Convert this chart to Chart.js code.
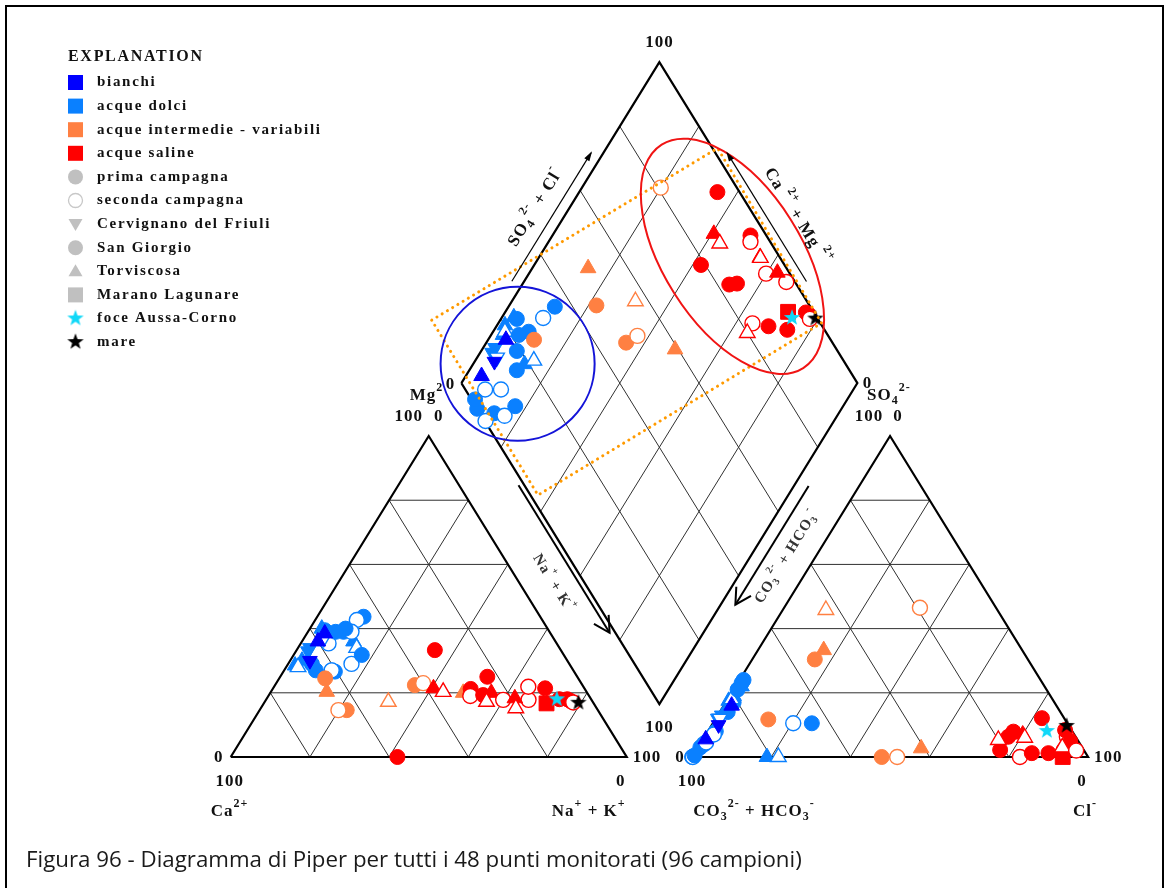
<!DOCTYPE html>
<html lang="it">
<head>
<meta charset="utf-8">
<title>Diagramma di Piper</title>
<script src="https://cdn.jsdelivr.net/npm/chart.js@4.4.1/dist/chart.umd.min.js"></script>
<style>
  html, body { margin: 0; padding: 0; background: #fff; }
  #page { position: relative; width: 1172px; height: 888px; overflow: hidden; }
  #box { position: absolute; left: 0; top: 0; width: 1172px; height: 888px; }
  #frame { position: absolute; left: 5px; top: 5px; width: 1159px; height: 900px; border: 2px solid #000; box-sizing: border-box; pointer-events: none; }
  #caption { position: absolute; left: 26px; top: 843px; font: 22.3px "Open Sans", sans-serif; color: #1a1a1a; white-space: nowrap; }
</style>
</head>
<body>
<div id="page">
  <div id="box"><canvas id="piper"></canvas></div>
  <div id="frame"></div>
  <div id="caption">Figura 96 - Diagramma di Piper per tutti i 48 punti monitorati (96 campioni)</div>
</div>
<script>
// ---- legend text ----
const groupNames = ['bianchi', 'acque dolci', 'acque intermedie - variabili', 'acque saline'];
const campaignNames = ['prima campagna', 'seconda campagna'];
const siteNames = ['Cervignano del Friuli', 'San Giorgio', 'Torviscosa', 'Marano Lagunare', 'foce Aussa-Corno', 'mare'];

// ---- samples (% meq) ----
// group: 0 bianchi, 1 dolci, 2 intermedie, 3 saline; campaign 1/2; site = index in siteNames
const sampleGroup    = [1,1,1,1,1,1,1,1,1,1,1,1,1,1,1,1,1,1,1,1,1,1,1,1, 0,0,0, 2,2,2,2,2,2,2,2, 3,3,3,3,3,3,3,3,3,3,3,3,3,3,3,3,3,3,3,3,3, 3,3];
const sampleCampaign = [1,2,1,2,1,1,1,1,1,1,2,1,1,2,2,1,2,1,1,1,2,2,1,1, 1,1,1, 1,1,1,2,2,1,2,1, 1,1,2,1,2,1,1,1,1,2,2,1,1,1,1,2,1,1,2,2,2, 1,1];
const sampleSite     = [1,1,2,2,1,1,1,2,2,0,1,1,1,1,1,1,1,1,0,2,2,0,1,1, 2,0,2, 1,2,1,1,2,1,1,2, 1,2,2,1,1,1,2,1,1,1,1,2,3,1,1,1,1,1,2,2,1, 4,5];
// cations
const mgPct  = [43.7,42.7,36,34,39,27,39.5,40,30,33,35.4,27,26.6,27,29,31.8,39,29,34,28.5,28,37,40,39,
                38.5,30,36,
                24.5,20.3,14.6,14.6,17.2,22.4,23,20,
                33.3,21.4,20.3,21.2,19,0,20,25,19.3,17.8,17.8,18.3,16.7,17.5,18,21.9,21.4,18,15.2,17.2,17,
                18.3,17.2];
const naKPct = [11.7,10.5,13,14.8,9,12,4,3,3,3,7,8,13,12,16,17.2,11,6,3,2,3,5,9,7,
                4.5,5,4,
                11.6,14.1,22,19.9,31.2,35.3,37.1,48.7,
                34.9,40.5,43.5,50,51,42.1,55.8,52.3,54.1,59.9,66.3,62.6,71.4,77,76,64.2,68.7,74,64.4,56,78,
                73.2,79.2];
// anions
const so4Pct = [10.5,10.5,0,0,17,14,23,22,17.5,12,4,0,3,0,4.5,8,7,0.5,13,19,18,12,24,21,
                16,10,5.5,
                11.7,33.3,30.4,46.5,45.8,0,0,2.7,
                12.1,7,6,3,2.2,2.2,3,6.3,7.9,1,6.3,4,0,8.4,5,0,1.2,1.2,5.3,3,2,
                8.4,10];
const clPct  = [25,20.3,18.9,21.8,2,2,1,1.5,0.5,0.5,1,0,0.6,0.2,1.3,2,2,0.4,1,1,1,1,1,1,
                2,1.7,0.7,
                13.4,16.6,15.8,34.3,10.9,47.9,51.8,56.5,
                82.3,80,81,93,92.8,76.7,92,76.7,77.2,93,91.5,93,93.6,90,93,82.8,85.2,89.4,74.7,92,96,
                85.4,89.6];

// ---- geometry (triangle side = 100) ----
const SIN60 = Math.sqrt(3) / 2;
const GAP = 16.5;
const X_MIN = -58.26, X_MAX = 237.70;
const Y_MIN = -35.35, Y_MAX = 204.26;
const ANION_X0 = 100 + GAP;
const DIA_LX = 100 + GAP / 2 - 50;
const DIA_LY = (GAP / 2) * 2 * SIN60 + 100 * SIN60;

const cationXY = (mg, na) => ({ x: na + mg / 2, y: mg * SIN60 });
const anionXY = (so4, cl) => ({ x: ANION_X0 + cl + so4 / 2, y: so4 * SIN60 });
const diamondXY = (nak, so4cl) => ({ x: DIA_LX + (nak + so4cl) / 2, y: DIA_LY + (so4cl - nak) * SIN60 });

const groupColors = ['#0000FF', '#0A80FF', '#FF8042', '#FF0000'];
const GRAY = '#C0C0C0';

function starCanvas(color) {
  const c = document.createElement('canvas');
  c.width = 18; c.height = 18;
  const g = c.getContext('2d');
  g.fillStyle = color;
  g.beginPath();
  for (let k = 0; k < 10; k++) {
    const r = k % 2 ? 3.5 : 8.6;
    const a = -Math.PI / 2 + k * Math.PI / 5;
    g.lineTo(9 + r * Math.cos(a), 9.8 + r * Math.sin(a));
  }
  g.closePath();
  g.fill();
  return c;
}
const starCyan = starCanvas('#10D8F8');
const starBlack = starCanvas('#000000');

const siteStyle = ['triangle', 'circle', 'triangle', 'rect', starCyan, starBlack];
const siteRadius = [8.5, 7.5, 9, 10.5, 9, 9];

function pointDataset(label, toXY) {
  const hollow = i => sampleCampaign[i] === 2;
  return {
    label,
    data: mgPct.map((_, i) => toXY(i)),
    order: 0,
    clip: false,
    pointStyle: c => siteStyle[sampleSite[c.dataIndex]],
    pointRotation: c => sampleSite[c.dataIndex] === 0 ? 180 : 0,
    pointRadius: c => siteRadius[sampleSite[c.dataIndex]],
    pointBackgroundColor: c => hollow(c.dataIndex) ? '#FFFFFF' : groupColors[sampleGroup[c.dataIndex]],
    pointBorderColor: c => groupColors[sampleGroup[c.dataIndex]],
    pointBorderWidth: c => hollow(c.dataIndex) ? 1.4 : 1
  };
}

// ---- structure lines ----
const BREAK = { x: null, y: null };
function segments(list) {
  const out = [];
  list.forEach(([p, q]) => out.push(p, q, BREAK));
  return out;
}
const gridSegs = [];
[20, 40, 60, 80].forEach(k => {
  gridSegs.push([cationXY(k, 0), cationXY(k, 100 - k)]);
  gridSegs.push([cationXY(0, k), cationXY(100 - k, k)]);
  gridSegs.push([cationXY(0, 100 - k), cationXY(100 - k, 0)]);
  gridSegs.push([anionXY(k, 0), anionXY(k, 100 - k)]);
  gridSegs.push([anionXY(0, k), anionXY(100 - k, k)]);
  gridSegs.push([anionXY(0, 100 - k), anionXY(100 - k, 0)]);
  gridSegs.push([diamondXY(k, 0), diamondXY(k, 100)]);
  gridSegs.push([diamondXY(0, k), diamondXY(100, k)]);
});
const outline = [
  cationXY(0, 0), cationXY(0, 100), cationXY(100, 0), cationXY(0, 0), BREAK,
  anionXY(0, 0), anionXY(0, 100), anionXY(100, 0), anionXY(0, 0), BREAK,
  diamondXY(0, 0), diamondXY(100, 0), diamondXY(100, 100), diamondXY(0, 100), diamondXY(0, 0)
];
const lineSet = (data, color, width, order) => ({
  type: 'line', data, order, borderColor: color, borderWidth: width,
  pointRadius: 0, fill: false, tension: 0, spanGaps: false, clip: false
});

// ---- annotations (diamond coordinates: Na+K %, SO4+Cl %) ----
const boxCorners = [[-17.3, 2.3], [28.1, 101.3], [81.6, 100.3], [36.8, 1.9]];
const blueCircle = { nak: 11.2, so4cl: 17.2, r: 19.45 };
const redEllipse = { nak: 48.7, so4cl: 88.2, a: 33.4, b: 17.4 };

const toPx = (chart, p) => ({ x: chart.scales.x.getPixelForValue(p.x), y: chart.scales.y.getPixelForValue(p.y) });
const unitPx = chart => chart.scales.x.getPixelForValue(1) - chart.scales.x.getPixelForValue(0);

function edgeFrame(chart, a, b) {
  const p0 = toPx(chart, a), p1 = toPx(chart, b);
  const dx = p1.x - p0.x, dy = p1.y - p0.y, len = Math.hypot(dx, dy);
  const u = { x: dx / len, y: dy / len };
  let n = { x: u.y, y: -u.x };
  const c = toPx(chart, diamondXY(50, 50));
  if (((p0.x + p1.x) / 2 - c.x) * n.x + ((p0.y + p1.y) / 2 - c.y) * n.y < 0) n = { x: -n.x, y: -n.y };
  return {
    at: (t, off) => ({ x: p0.x + u.x * len * t + n.x * off, y: p0.y + u.y * len * t + n.y * off }),
    angle: Math.atan2(dy, dx)
  };
}

function arrow(ctx, from, to, width, kind) {
  const ang = Math.atan2(to.y - from.y, to.x - from.x);
  ctx.save();
  ctx.strokeStyle = '#000'; ctx.fillStyle = '#000'; ctx.lineWidth = width;
  ctx.beginPath(); ctx.moveTo(from.x, from.y); ctx.lineTo(to.x, to.y); ctx.stroke();
  if (kind === 'solid') {
    ctx.beginPath();
    ctx.moveTo(to.x + 2 * Math.cos(ang), to.y + 2 * Math.sin(ang));
    ctx.lineTo(to.x - 8 * Math.cos(ang) + 3 * Math.sin(ang), to.y - 8 * Math.sin(ang) - 3 * Math.cos(ang));
    ctx.lineTo(to.x - 8 * Math.cos(ang) - 3 * Math.sin(ang), to.y - 8 * Math.sin(ang) + 3 * Math.cos(ang));
    ctx.closePath(); ctx.fill();
  } else {
    const L = 18, spread = 0.5;
    ctx.beginPath();
    ctx.moveTo(to.x - L * Math.cos(ang - spread), to.y - L * Math.sin(ang - spread));
    ctx.lineTo(to.x, to.y);
    ctx.lineTo(to.x - L * Math.cos(ang + spread), to.y - L * Math.sin(ang + spread));
    ctx.stroke();
  }
  ctx.restore();
}

const SERIF = '"Liberation Serif", "Times New Roman", serif';
function rich(ctx, parts, x, y, size, align) {
  const font = m => `bold ${m ? Math.round(size * 0.68) : size}px ${SERIF}`;
  let w = 0;
  for (const [t, m] of parts) { ctx.font = font(m); w += ctx.measureText(t).width; }
  let cx = align === 'center' ? x - w / 2 : align === 'right' ? x - w : x;
  ctx.textAlign = 'left';
  for (const [t, m] of parts) {
    ctx.font = font(m);
    const dy = m === 1 ? -size * 0.5 : m === 2 ? size * 0.3 : 0;
    ctx.fillText(t, cx, y + dy);
    cx += ctx.measureText(t).width;
  }
}

const annotPlugin = {
  id: 'annot',
  afterDatasetsDraw(chart) {
    const ctx = chart.ctx;
    const u = unitPx(chart);
    ctx.save();
    // dotted box
    ctx.setLineDash([0.1, 6]); ctx.lineCap = 'round'; ctx.lineWidth = 3; ctx.strokeStyle = '#FF9A00';
    ctx.beginPath();
    boxCorners.map(c => toPx(chart, diamondXY(c[0], c[1]))).forEach((p, i) => i ? ctx.lineTo(p.x, p.y) : ctx.moveTo(p.x, p.y));
    ctx.closePath(); ctx.stroke();
    ctx.setLineDash([]);
    // blue circle
    const bc = toPx(chart, diamondXY(blueCircle.nak, blueCircle.so4cl));
    ctx.strokeStyle = '#1414D8'; ctx.lineWidth = 2;
    ctx.beginPath(); ctx.arc(bc.x, bc.y, blueCircle.r * u, 0, Math.PI * 2); ctx.stroke();
    // red ellipse, major axis along the upper right side of the diamond
    const ec = toPx(chart, diamondXY(redEllipse.nak, redEllipse.so4cl));
    const top = toPx(chart, diamondXY(0, 100)), right = toPx(chart, diamondXY(100, 100));
    const rot = Math.atan2(right.y - top.y, right.x - top.x) - 0.012;
    ctx.strokeStyle = '#F01414';
    ctx.beginPath(); ctx.ellipse(ec.x, ec.y, redEllipse.a * u, redEllipse.b * u, rot, 0, Math.PI * 2); ctx.stroke();
    ctx.restore();
  },
  afterDraw(chart) {
    const ctx = chart.ctx;
    const P = p => toPx(chart, p);
    ctx.save();
    ctx.fillStyle = '#111';
    ctx.textBaseline = 'middle';
    ctx.letterSpacing = '1px';

    const pCa = P(cationXY(0, 0)), pNa = P(cationXY(0, 100)), pMg = P(cationXY(100, 0));
    const pCO3 = P(anionXY(0, 0)), pCl = P(anionXY(0, 100)), pSO4 = P(anionXY(100, 0));
    const dL = P(diamondXY(0, 0)), dB = P(diamondXY(100, 0)), dR = P(diamondXY(100, 100)), dT = P(diamondXY(0, 100));
    const S = 17;
    // diamond corners
    rich(ctx, [['100', 0]], dT.x, dT.y - 20, S, 'center');
    rich(ctx, [['100', 0]], dB.x, dB.y + 24, S, 'center');
    rich(ctx, [['0', 0]], dL.x - 11, dL.y + 2, S, 'center');
    rich(ctx, [['0', 0]], dR.x + 10, dR.y + 1, S, 'center');
    // cation triangle
    rich(ctx, [['0', 0]], pCa.x - 12, pCa.y + 1, S, 'center');
    rich(ctx, [['100', 0]], pCa.x - 1, pCa.y + 25, S, 'center');
    rich(ctx, [['Ca', 0], ['2+', 1]], pCa.x - 20, pCa.y + 55, S, 'left');
    rich(ctx, [['100', 0]], pNa.x + 6, pNa.y + 1, S, 'left');
    rich(ctx, [['0', 0]], pNa.x - 6, pNa.y + 25, S, 'center');
    rich(ctx, [['Na', 0], ['+', 1], [' + K', 0], ['+', 1]], pNa.x - 38, pNa.y + 55, S, 'center');
    rich(ctx, [['Mg', 0], ['2', 1]], pMg.x - 19, pMg.y - 40, S, 'left');
    rich(ctx, [['100', 0]], pMg.x - 20, pMg.y - 19, S, 'center');
    rich(ctx, [['0', 0]], pMg.x + 10, pMg.y - 19, S, 'center');
    // anion triangle
    rich(ctx, [['0', 0]], pCO3.x - 12, pCO3.y + 1, S, 'center');
    rich(ctx, [['100', 0]], pCO3.x, pCO3.y + 25, S, 'center');
    rich(ctx, [['CO', 0], ['3', 2], ['2-', 1], [' + HCO', 0], ['3', 2], ['-', 1]], pCO3.x + 62, pCO3.y + 55, S, 'center');
    rich(ctx, [['100', 0]], pCl.x + 6, pCl.y + 1, S, 'left');
    rich(ctx, [['0', 0]], pCl.x - 6, pCl.y + 25, S, 'center');
    rich(ctx, [['Cl', 0], ['-', 1]], pCl.x - 3, pCl.y + 55, S, 'center');
    rich(ctx, [['SO', 0], ['4', 2], ['2-', 1]], pSO4.x - 23, pSO4.y - 40, S, 'left');
    rich(ctx, [['100', 0]], pSO4.x - 21, pSO4.y - 19, S, 'center');
    rich(ctx, [['0', 0]], pSO4.x + 8, pSO4.y - 19, S, 'center');

    // side titles with arrows
    const fLT = edgeFrame(chart, diamondXY(0, 0), diamondXY(0, 100));
    const fTR = edgeFrame(chart, diamondXY(0, 100), diamondXY(100, 100));
    const fLB = edgeFrame(chart, diamondXY(0, 0), diamondXY(100, 0));
    const fBR = edgeFrame(chart, diamondXY(100, 0), diamondXY(100, 100));
    arrow(ctx, fLT.at(0.30, 10.5), fLT.at(0.70, 10.5), 1.2, 'solid');
    arrow(ctx, fTR.at(0.70, 10), fTR.at(0.30, 10), 1.2, 'solid');
    arrow(ctx, fLB.at(0.31, 5), fLB.at(0.77, 5), 2, 'open');
    arrow(ctx, fBR.at(0.70, 12.5), fBR.at(0.33, 12.5), 2, 'open');

    const side = (frame, t, off, parts, size, color) => {
      const p = frame.at(t, off);
      ctx.save();
      ctx.translate(p.x, p.y);
      ctx.rotate(frame.angle);
      ctx.fillStyle = color;
      rich(ctx, parts, 0, 0, size, 'center');
      ctx.restore();
    };
    side(fLT, 0.50, 29, [['SO', 0], ['4', 2], ['2-', 1], [' + Cl', 0], ['-', 1]], 17, '#111');
    side(fTR, 0.54, 36, [['Ca ', 0], ['2+', 1], [' + Mg ', 0], ['2+', 1]], 17, '#111');
    side(fLB, 0.58, 27, [['Na', 0], ['+', 1], [' + K', 0], ['+', 1]], 15, '#333');
    side(fBR, 0.51, 31, [['CO', 0], ['3', 2], ['2-', 1], [' + HCO', 0], ['3', 2], ['-', 1]], 15, '#333');

    // explanation
    ctx.letterSpacing = '1.7px';
    ctx.fillStyle = '#111';
    ctx.textAlign = 'left';
    ctx.font = `bold 16px ${SERIF}`;
    ctx.fillText('EXPLANATION', 68, 57);
    ctx.font = `bold 15px ${SERIF}`;
    const rows = [...groupNames, ...campaignNames, ...siteNames];
    rows.forEach((label, i) => {
      const y = 82.5 + i * 23.6;
      legendMarker(ctx, i, 75.5, y);
      ctx.fillStyle = '#111';
      ctx.fillText(label, 97, y);
    });
    ctx.restore();
  }
};

function legendMarker(ctx, i, x, y) {
  ctx.save();
  if (i < 4) {
    ctx.fillStyle = groupColors[i];
    ctx.fillRect(x - 7.5, y - 7.5, 15, 15);
  } else if (i === 4 || i === 7) {
    ctx.fillStyle = GRAY;
    ctx.beginPath(); ctx.arc(x, y, 7.5, 0, Math.PI * 2); ctx.fill();
  } else if (i === 5) {
    ctx.fillStyle = '#fff'; ctx.strokeStyle = '#C8C8C8'; ctx.lineWidth = 1.3;
    ctx.beginPath(); ctx.arc(x, y, 7, 0, Math.PI * 2); ctx.fill(); ctx.stroke();
  } else if (i === 6 || i === 8) {
    const s = i === 6 ? -1 : 1;
    ctx.fillStyle = GRAY;
    ctx.beginPath();
    ctx.moveTo(x, y - s * 7); ctx.lineTo(x + 7, y + s * 5); ctx.lineTo(x - 7, y + s * 5);
    ctx.closePath(); ctx.fill();
  } else if (i === 9) {
    ctx.fillStyle = GRAY;
    ctx.fillRect(x - 7.5, y - 7.5, 15, 15);
  } else {
    const img = i === 10 ? starCyan : starBlack;
    ctx.drawImage(img, x - 9, y - 10);
  }
  ctx.restore();
}

new Chart(document.getElementById('piper'), {
  type: 'scatter',
  data: {
    datasets: [
      pointDataset('diamond', i => diamondXY(naKPct[i], so4Pct[i] + clPct[i])),
      pointDataset('cations', i => cationXY(mgPct[i], naKPct[i])),
      pointDataset('anions', i => anionXY(so4Pct[i], clPct[i])),
      lineSet(segments(gridSegs), '#303030', 1, 20),
      lineSet(outline, '#000000', 2.2, 10)
    ]
  },
  options: {
    responsive: true,
    maintainAspectRatio: false,
    animation: false,
    events: [],
    layout: { padding: 0, autoPadding: false },
    plugins: { legend: { display: false }, tooltip: { enabled: false } },
    scales: {
      x: { type: 'linear', display: false, min: X_MIN, max: X_MAX },
      y: { type: 'linear', display: false, min: Y_MIN, max: Y_MAX }
    }
  },
  plugins: [annotPlugin]
});
</script>
</body>
</html>
